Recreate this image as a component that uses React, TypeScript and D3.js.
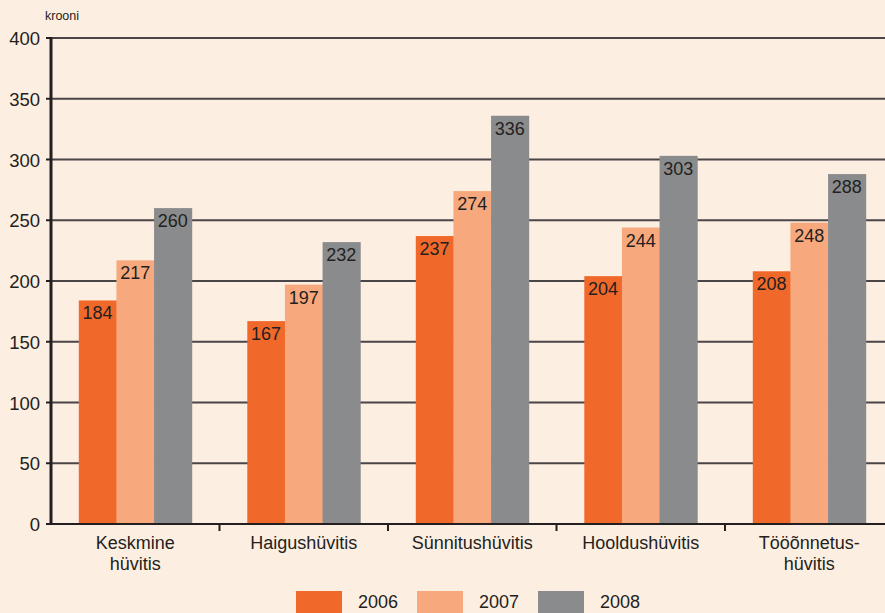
import { useEffect, useRef } from 'react';
import * as d3 from 'd3';

const categories = ['Keskmine\nhüvitis', 'Haigushüvitis', 'Sünnitushüvitis', 'Hooldushüvitis', 'Tööõnnetus-\nhüvitis'];
const years = ['2006', '2007', '2008'];
const values2006 = [184, 167, 237, 204, 208];
const values2007 = [217, 197, 274, 244, 248];
const values2008 = [260, 232, 336, 303, 288];
const yTicks = [0, 50, 100, 150, 200, 250, 300, 350, 400];
const colors = ['#f0692b', '#f7a87d', '#8a8b8d'];

export default function App() {
  const svgRef = useRef<SVGSVGElement>(null);

  useEffect(() => {
    if (!svgRef.current) return;
    const width = 885;
    const height = 613;
    const svg = d3.select(svgRef.current);
    svg.selectAll('*').remove();

    const left = 51;
    const top = 38;
    const bottom = 524;
    const font = 'Liberation Sans, Arial, sans-serif';
    const textColor = '#231f20';

    svg.append('rect').attr('width', width).attr('height', height).attr('fill', '#fdeee2');

    const x = d3.scaleBand<string>().domain(categories).range([left, left + 5 * 168.5]).paddingInner(0.33).paddingOuter(0.165);
    const x1 = d3.scaleBand<string>().domain(years).range([0, x.bandwidth()]);
    const y = d3.scaleLinear().domain([0, 400]).range([bottom, top]);

    // gridlines
    svg.append('g')
      .selectAll('line')
      .data(yTicks.filter((d) => d > 0))
      .join('line')
      .attr('x1', left)
      .attr('x2', width)
      .attr('y1', (d) => y(d))
      .attr('y2', (d) => y(d))
      .attr('stroke', '#4a4546')
      .attr('stroke-width', 2);

    const series = [values2006, values2007, values2008];
    categories.forEach((c, i) => {
      const g = svg.append('g').attr('transform', `translate(${x(c)},0)`);
      years.forEach((yr, j) => {
        const v = series[j][i];
        g.append('rect')
          .attr('x', x1(yr)!)
          .attr('y', y(v))
          .attr('width', x1.bandwidth() + 0.5)
          .attr('height', bottom - y(v))
          .attr('fill', colors[j]);
        g.append('text')
          .attr('x', x1(yr)! + x1.bandwidth() / 2)
          .attr('y', y(v) + 19)
          .attr('text-anchor', 'middle')
          .attr('font-family', font)
          .attr('font-size', 18)
          .attr('fill', textColor)
          .text(v);
      });
    });

    // x axis
    svg.append('line')
      .attr('x1', left).attr('x2', width)
      .attr('y1', bottom).attr('y2', bottom)
      .attr('stroke', '#231f20').attr('stroke-width', 2);
    svg.append('g')
      .selectAll('line')
      .data(categories.slice(1))
      .join('line')
      .attr('x1', (d) => x(d)! - (x.step() - x.bandwidth()) / 2)
      .attr('x2', (d) => x(d)! - (x.step() - x.bandwidth()) / 2)
      .attr('y1', bottom)
      .attr('y2', bottom + 7)
      .attr('stroke', '#231f20')
      .attr('stroke-width', 2);

    // category labels
    categories.forEach((c) => {
      const lines = c.split('\n');
      const t = svg.append('text')
        .attr('text-anchor', 'middle')
        .attr('font-family', font)
        .attr('font-size', 18)
        .attr('fill', textColor);
      lines.forEach((l, k) => {
        t.append('tspan')
          .attr('x', x(c)! + x.bandwidth() / 2)
          .attr('y', 549 + k * 21)
          .text(l);
      });
    });

    // y axis
    svg.append('line')
      .attr('x1', left).attr('x2', left)
      .attr('y1', top - 1).attr('y2', bottom + 1)
      .attr('stroke', '#231f20').attr('stroke-width', 3);
    svg.append('g')
      .selectAll('line')
      .data(yTicks)
      .join('line')
      .attr('x1', left - 5)
      .attr('x2', left)
      .attr('y1', (d) => y(d))
      .attr('y2', (d) => y(d))
      .attr('stroke', '#231f20')
      .attr('stroke-width', 2);
    svg.append('g')
      .selectAll('text')
      .data(yTicks)
      .join('text')
      .attr('x', 40)
      .attr('y', (d) => y(d) + 7)
      .attr('text-anchor', 'end')
      .attr('font-family', font)
      .attr('font-size', 18.5)
      .attr('fill', textColor)
      .text((d) => d);

    svg.append('text')
      .attr('x', 45)
      .attr('y', 20)
      .attr('font-family', font)
      .attr('font-size', 12.5)
      .attr('fill', textColor)
      .text('krooni');

    // legend
    const legend = svg.append('g');
    years.forEach((yr, j) => {
      const lx = 296 + j * 121;
      legend.append('rect')
        .attr('x', lx).attr('y', 591)
        .attr('width', 46).attr('height', 22)
        .attr('fill', colors[j]);
      legend.append('text')
        .attr('x', lx + 62).attr('y', 608)
        .attr('font-family', font)
        .attr('font-size', 18)
        .attr('fill', textColor)
        .text(yr);
    });
  }, []);

  return (
    <svg
      ref={svgRef}
      width={885}
      height={613}
      style={{ position: 'absolute', left: 0, top: 0, display: 'block' }}
    />
  );
}
